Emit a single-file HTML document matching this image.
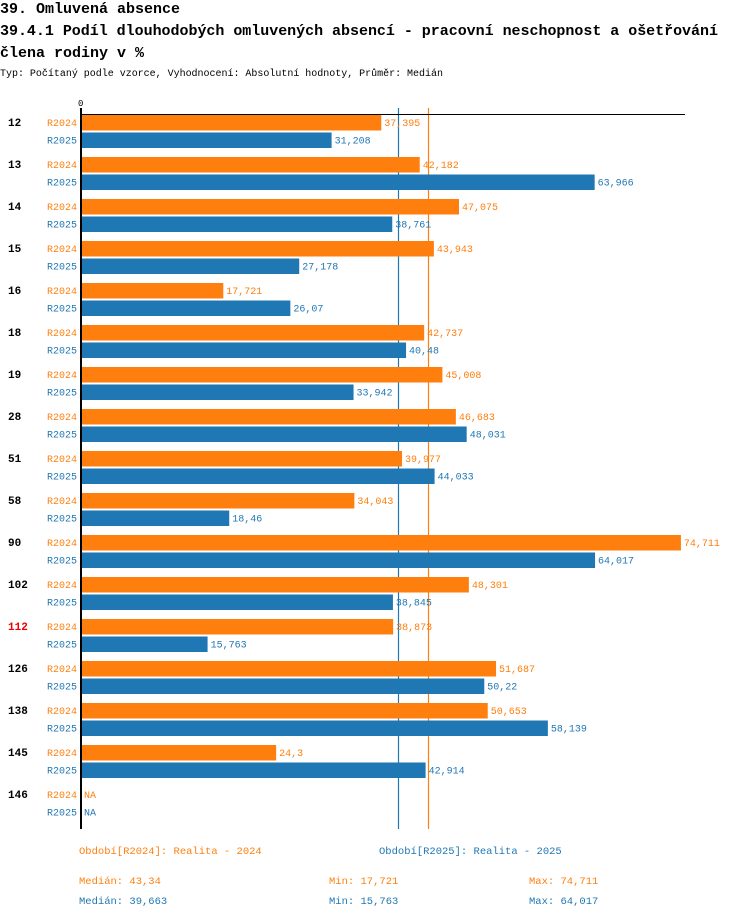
<!DOCTYPE html>
<html><head><meta charset="utf-8"><style>
body{margin:0;background:#fff;width:750px;height:918px;overflow:hidden;font-family:"Liberation Mono",monospace;}
</style></head><body>
<svg id="chart" width="750" height="918" xmlns="http://www.w3.org/2000/svg" font-family="Liberation Mono, monospace">
<text x="0" y="13" font-size="15" font-weight="bold">39. Omluvená absence</text>
<text x="0" y="35" font-size="15" font-weight="bold" textLength="718">39.4.1 Podíl dlouhodobých omluvených absencí - pracovní neschopnost a ošetřování</text>
<text x="0" y="57" font-size="15" font-weight="bold">člena rodiny v %</text>
<text x="0" y="76" font-size="10" textLength="443">Typ: Počítaný podle vzorce, Vyhodnocení: Absolutní hodnoty, Průměr: Medián</text>
<g id="plot"></g>
<text x="79" y="854" font-size="10.5" fill="#ff7f0e">Období[R2024]: Realita - 2024</text>
<text x="379" y="854" font-size="10.5" fill="#1f77b4">Období[R2025]: Realita - 2025</text>
<text x="79" y="884" font-size="10.5" fill="#ff7f0e">Medián: 43,34</text>
<text x="329" y="884" font-size="10.5" fill="#ff7f0e">Min: 17,721</text>
<text x="529" y="884" font-size="10.5" fill="#ff7f0e">Max: 74,711</text>
<text x="79" y="904" font-size="10.5" fill="#1f77b4">Medián: 39,663</text>
<text x="329" y="904" font-size="10.5" fill="#1f77b4">Min: 15,763</text>
<text x="529" y="904" font-size="10.5" fill="#1f77b4">Max: 64,017</text>
</svg>
<script>
const categories=["12","13","14","15","16","18","19","28","51","58","90","102","112","126","138","145","146"];
const values2024=[37.395,42.182,47.075,43.943,17.721,42.737,45.008,46.683,39.977,34.043,74.711,48.301,38.873,51.687,50.653,24.3,null];
const values2025=[31.208,63.966,38.761,27.178,26.07,40.48,33.942,48.031,44.033,18.46,64.017,38.845,15.763,50.22,58.139,42.914,null];
const medians=[43.34,39.663];
const highlighted=["112"];
const NS="http://www.w3.org/2000/svg";
const g=document.getElementById('plot');
const x0=81,scale=8.03,top0=114,groupH=42;
const xs=v=>x0+v*scale;
const colors=["#ff7f0e","#1f77b4"];
const fmt=v=>String(v).replace('.',',');
function mk(t,a){const e=document.createElementNS(NS,t);for(const k in a)e.setAttribute(k,a[k]);g.appendChild(e);return e;}
medians.forEach((m,s)=>{
  const xp=Math.round(xs(m))-0.5;
  const l=mk('line',{x1:xp,x2:xp,y1:108,y2:829,stroke:colors[s],'stroke-width':1.2});
  
  
});
categories.forEach((c,i)=>{
  const gy=top0+i*groupH;
  const t=mk('text',{x:8,y:gy+12,'font-size':11,'font-weight':'bold',fill:highlighted.includes(c)?'#e00':'#000'});
  t.textContent=c;
  
  
  [values2024[i],values2025[i]].forEach((v,s)=>{
    const by=gy+1+s*17.5;
    const l=mk('text',{x:47,y:by+11,'font-size':10,fill:colors[s]});
    l.textContent=s?'R2025':'R2024';
    
    
    if(v!=null){
      const r=mk('rect',{x:x0,y:by,width:v*scale,height:15.5,fill:colors[s]});
      
      
    }
    const vl=mk('text',{x:(v!=null?xs(v):x0)+3,y:by+11,'font-size':10,fill:colors[s]});
    vl.textContent=v!=null?fmt(v):'NA';
    
    
  });
});
const ax=mk('line',{x1:x0,x2:x0,y1:108,y2:829,stroke:'#000','stroke-width':2});


const hx=mk('line',{x1:x0,x2:685,y1:114.5,y2:114.5,stroke:'#000','stroke-width':1});


const z=mk('text',{x:x0-3,y:106,'font-size':9});
z.textContent='0';


</script>
</body></html>
